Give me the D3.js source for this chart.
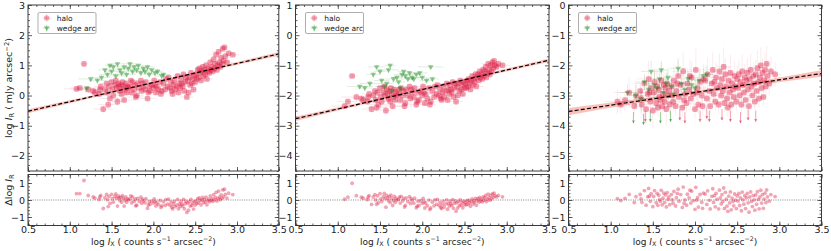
<!DOCTYPE html>
<html><head><meta charset="utf-8">
<script src="https://cdn.jsdelivr.net/npm/d3@7"></script>
<style>body{margin:0;background:#fff} text{font-family:"DejaVu Sans",sans-serif}</style>
</head><body><svg id="c" width="831" height="251"></svg>
<script>
// ---------------- DATA ----------------
const haloX = [1.08,1.12,1.17,1.22,1.28,1.30,
 1.35,1.37,1.40,1.42,1.44,1.45,1.47,1.48,1.50,1.51,1.52,1.54,1.55,1.56,1.57,1.58,1.60,1.61,1.62,1.63,1.64,1.65,1.66,1.67,1.68,1.69,1.70,1.36,1.46,1.59,
 1.72,1.74,1.75,1.77,1.78,1.80,1.81,1.83,1.85,1.86,1.88,1.90,1.91,1.93,1.95,1.96,1.98,2.00,2.01,2.03,2.04,2.06,2.08,2.10,1.73,1.79,1.87,1.94,2.02,2.09,
 2.12,2.14,2.15,2.17,2.18,2.20,2.21,2.22,2.24,2.25,2.26,2.28,2.29,2.30,2.31,2.32,2.33,2.35,2.36,2.37,2.38,2.40,2.41,2.42,2.43,2.44,2.45,2.46,2.47,2.48,2.49,2.50,2.23,2.34,2.39,
 2.51,2.52,2.53,2.54,2.55,2.56,2.57,2.58,2.59,2.60,2.61,2.62,2.63,2.64,2.65,2.66,2.67,2.68,2.69,2.70,2.71,2.72,2.73,2.74,2.75,2.76,2.77,2.78,2.79,2.80,2.81,2.82,2.83,2.84,2.85,2.86,2.88,2.90,2.95];
const haloXErr = [.15,.12,.05,.18,.1,.08,
 .1,.08,.12,.06,.09,.15,.07,.11,.05,.08,.13,.06,.09,.1,.07,.12,.05,.08,.1,.06,.09,.14,.07,.05,.11,.08,.06,.1,.12,.07,
 .06,.09,.05,.11,.07,.08,.04,.1,.06,.13,.05,.08,.07,.09,.06,.1,.05,.08,.07,.12,.06,.05,.09,.07,.08,.1,.06,.05,.11,.07,
 .05,.07,.06,.09,.04,.08,.06,.05,.1,.07,.05,.06,.08,.04,.09,.06,.05,.07,.1,.05,.06,.08,.04,.07,.06,.09,.05,.06,.08,.04,.07,.05,.06,.09,.05,
 .05,.06,.04,.07,.05,.08,.04,.06,.05,.07,.04,.06,.05,.08,.04,.06,.05,.07,.04,.05,.06,.04,.07,.05,.06,.04,.05,.08,.06,.05,.04,.07,.05,.06,.04,.05,.07,.06,.08];
const haloY1 = [0.22,0.25,1.05,0.2,0.15,0.1,
 0.05,0.3,-0.45,0.2,0.4,0.1,0.3,-0.1,0.45,0.2,0.0,0.35,0.5,0.25,-0.2,0.4,0.15,0.35,0.05,0.45,0.3,-0.15,0.2,0.4,0.1,0.3,0.25,0.2,-0.3,0.3,
 0.3,0.1,0.45,0.2,0.35,0.0,0.4,0.25,0.5,0.15,0.3,0.2,0.45,-0.1,0.3,0.15,0.35,0.25,0.5,0.1,0.3,0.2,0.45,0.15,0.5,-0.05,0.4,0.1,0.35,0.05,
 0.4,0.2,0.55,0.3,0.6,0.25,0.45,0.15,0.35,0.5,0.2,0.3,0.65,0.1,0.4,0.25,0.55,0.3,0.7,0.15,0.45,-0.05,0.5,0.1,0.6,0.35,0.75,0.4,0.55,0.2,0.65,0.45,0.05,0.4,0.6,
 0.7,0.55,0.85,0.6,0.9,0.75,0.5,0.8,0.95,0.65,0.85,0.7,1.0,0.55,0.8,0.9,0.75,1.1,0.85,0.95,0.8,1.2,0.9,1.05,1.35,0.85,1.0,1.45,1.1,0.95,1.25,1.05,1.55,1.15,1.6,1.3,1.1,1.4,1.35];
const haloY2 = [-2.35,-2.2,-1.35,-2.05,-2.1,-2.15,
 -2.2,-1.95,-2.45,-2.0,-1.85,-2.15,-1.9,-2.3,-1.75,-2.05,-2.2,-1.9,-1.7,-2.0,-2.5,-1.8,-2.1,-1.85,-2.2,-1.75,-1.95,-2.35,-2.05,-1.8,-2.15,-1.9,-2.0,-2.05,-2.4,-1.95,
 -1.95,-2.15,-1.75,-2.0,-1.85,-2.25,-1.8,-2.0,-1.7,-2.1,-1.9,-2.05,-1.75,-2.3,-1.9,-2.15,-1.85,-2.0,-1.7,-2.25,-1.95,-2.1,-1.75,-2.2,-1.8,-2.35,-1.8,-2.2,-1.9,-2.3,
 -1.85,-2.05,-1.7,-1.95,-1.65,-2.0,-1.8,-2.1,-1.9,-1.7,-2.05,-1.85,-1.6,-2.15,-1.8,-1.95,-1.65,-1.9,-1.55,-2.05,-1.75,-2.2,-1.7,-2.0,-1.6,-1.85,-1.5,-1.8,-1.65,-1.95,-1.55,-1.75,-2.15,-1.8,-1.6,
 -1.6,-1.75,-1.5,-1.7,-1.45,-1.6,-1.8,-1.5,-1.35,-1.65,-1.45,-1.55,-1.3,-1.7,-1.4,-1.3,-1.5,-1.2,-1.4,-1.3,-1.45,-1.15,-1.35,-1.2,-1.05,-1.4,-1.25,-0.95,-1.15,-1.3,-1.0,-1.2,-0.9,-1.1,-0.85,-1.0,-1.05,-0.95,-1.0];
const haloY3 = [-3.2,-3.3,-3.15,-2.9,-3.35,-3.0,
 -2.85,-3.3,-2.6,-3.45,-2.95,-2.45,-3.2,-2.75,-3.5,-2.9,-2.55,-3.25,-2.7,-3.4,-2.8,-3.05,-2.5,-3.35,-2.95,-2.65,-3.2,-2.75,-3.45,-2.6,-3.0,-2.85,-3.3,-3.1,-2.9,-3.15,
 -2.7,-3.2,-2.5,-3.35,-2.85,-2.35,-3.05,-2.65,-3.4,-2.2,-2.95,-3.25,-2.6,-2.8,-3.1,-2.4,-2.95,-3.45,-2.15,-2.75,-3.3,-2.55,-3.0,-2.45,-3.0,-2.6,-3.15,-2.35,-2.9,-3.35,
 -2.5,-3.1,-2.3,-2.85,-3.35,-2.6,-2.15,-2.95,-3.2,-2.4,-2.75,-3.3,-2.2,-2.65,-3.0,-2.45,-2.85,-3.25,-2.3,-2.7,-3.1,-2.5,-2.9,-2.25,-3.3,-2.6,-2.8,-3.05,-2.35,-2.7,-3.2,-2.45,-2.55,-2.05,-3.4,
 -2.75,-2.3,-3.0,-2.55,-3.3,-2.2,-2.65,-2.9,-2.4,-3.15,-2.5,-2.25,-2.8,-3.35,-2.45,-2.15,-2.7,-3.0,-2.35,-2.6,-3.2,-2.3,-2.85,-2.1,-2.55,-3.1,-2.4,-2.0,-2.75,-2.25,-3.05,-2.5,-2.15,-2.7,-1.95,-2.35,-2.6,-2.2,-2.3];
const haloYErr12 = [.08,.1,.06,.12,.09,.07,
 .1,.08,.12,.07,.09,.11,.06,.1,.08,.07,.12,.09,.06,.1,.13,.08,.07,.09,.11,.06,.08,.12,.07,.09,.1,.06,.08,.11,.14,.07,
 .07,.09,.06,.1,.08,.11,.06,.07,.09,.12,.06,.08,.07,.1,.06,.09,.07,.08,.11,.06,.07,.09,.06,.1,.08,.12,.07,.09,.06,.08,
 .06,.08,.07,.09,.06,.1,.07,.06,.08,.07,.09,.06,.07,.11,.06,.08,.07,.06,.09,.07,.06,.1,.07,.08,.06,.07,.09,.06,.07,.08,.06,.07,.1,.06,.07,
 .06,.07,.05,.08,.06,.07,.09,.05,.06,.07,.05,.08,.06,.07,.05,.06,.07,.08,.05,.06,.07,.05,.06,.07,.08,.05,.06,.07,.05,.06,.08,.05,.07,.06,.05,.07,.06,.08,.06];
const haloYErr3 = [.4,.3,.35,.5,.3,.45,
 .3,.45,.25,.5,.35,.6,.3,.4,.55,.3,.45,.35,.5,.3,.4,.35,.6,.3,.45,.5,.35,.3,.55,.4,.3,.45,.35,.5,.3,.4,
 .35,.3,.5,.3,.4,.6,.3,.45,.3,.65,.35,.3,.5,.4,.3,.55,.35,.3,.7,.4,.3,.45,.35,.5,.3,.4,.35,.55,.3,.3,
 .45,.3,.55,.35,.3,.4,.6,.3,.3,.5,.35,.3,.6,.4,.3,.45,.35,.3,.55,.4,.3,.45,.35,.6,.3,.4,.35,.3,.5,.4,.3,.45,.4,.65,.3,
 .35,.5,.3,.4,.3,.55,.35,.3,.45,.3,.4,.5,.35,.3,.4,.55,.35,.3,.45,.4,.3,.5,.35,.6,.4,.3,.45,.6,.35,.5,.3,.4,.55,.35,.6,.45,.4,.5,.4];

const wedgeX1 = [1.2,1.25,1.33,1.38,1.42,1.45,1.48,1.5,1.52,1.55,1.57,1.6,1.62,1.65,1.68,1.7,1.72,1.75,1.77,1.8,1.82,1.85,1.88,1.9,1.93,1.95,1.98,2.02,2.05,2.1,2.12];
const wedgeY1 = [0.25,0.55,0.5,0.6,0.85,0.7,1.0,0.8,0.95,0.65,1.05,0.85,0.75,0.95,0.7,0.9,1.05,0.8,0.95,0.85,1.0,0.75,0.9,0.8,0.95,0.7,0.85,0.75,0.8,0.65,0.7];
const wedgeXErr1 = [.12,.15,.1,.12,.08,.1,.06,.09,.07,.12,.08,.1,.06,.09,.11,.07,.08,.1,.06,.09,.07,.1,.08,.06,.09,.07,.1,.08,.06,.09,.07];
const wedgeYErr1 = [.08,.1,.07,.09,.06,.08,.07,.06,.08,.09,.07,.06,.08,.07,.09,.06,.08,.07,.06,.09,.07,.08,.06,.07,.09,.08,.06,.07,.08,.06,.07];
const wedgeX2 = [1.26,1.32,1.38,1.42,1.46,1.5,1.52,1.55,1.58,1.6,1.62,1.64,1.66,1.7,1.72,1.74,1.76,1.78,1.8,1.83,1.85,1.88,1.9,1.93,1.97,2.0,2.05,2.1,2.12];
const wedgeY2 = [-1.7,-1.75,-1.6,-1.3,-1.05,-1.2,-1.5,-1.7,-1.6,-1.15,-1.0,-1.85,-1.45,-1.4,-1.55,-1.75,-1.3,-1.2,-1.35,-1.45,-1.25,-1.4,-1.45,-1.3,-1.25,-1.4,-1.5,-1.05,-1.45];
const wedgeXErr2 = [.15,.1,.12,.08,.1,.07,.09,.11,.08,.12,.06,.09,.1,.07,.08,.06,.1,.07,.09,.08,.06,.1,.07,.08,.09,.06,.08,.15,.07];
const wedgeYErr2 = [.08,.09,.07,.1,.06,.08,.07,.09,.06,.08,.07,.1,.06,.08,.07,.09,.06,.07,.08,.06,.09,.07,.08,.06,.07,.08,.06,.07,.08];
const wedgeX3 = [1.2,1.3,1.36,1.4,1.45,1.48,1.52,1.55,1.58,1.6,1.63,1.66,1.68,1.72,1.75,1.8,1.84,1.88,1.92,1.96,2.0,2.05,2.1,2.14];
const wedgeY3 = [-2.9,-3.0,-3.1,-2.55,-2.8,-2.2,-2.65,-2.75,-2.45,-2.15,-2.9,-2.6,-2.4,-2.7,-2.95,-2.1,-2.6,-2.8,-2.45,-2.65,-2.75,-2.5,-2.35,-2.3];
const wedgeXErr3 = [.1,.12,.08,.1,.07,.12,.09,.06,.1,.08,.07,.11,.06,.09,.08,.1,.07,.06,.09,.08,.07,.1,.06,.08];
const wedgeYErr3 = [.3,.35,.4,.25,.3,.35,.45,.3,.25,.3,.4,.35,.3,.25,.35,.3,.4,.3,.25,.35,.3,.3,.25,.3];

// upper limits (panel 3)
const haloULX3 = [1.41,1.82,1.88,2.06,2.14,2.17,2.32,2.42,2.54,2.63,2.72];
const haloULY3 = [-3.5,-3.45,-3.55,-3.5,-3.4,-3.5,-3.45,-3.5,-3.55,-3.45,-3.5];
const wedgeULX3 = [1.27,1.39,1.47,1.59,1.71];
const wedgeULY3 = [-3.55,-3.6,-3.5,-3.55,-3.5];

// best-fit line values at x = 0.5 and x = 3.5, band half-widths at x = 0.5, 2.0, 3.5
const fitEnds = [[-0.52,1.38],[-2.77,-0.83],[-3.53,-2.27]];
const bandHalf = [[0.07,0.03,0.06],[0.07,0.03,0.06],[0.12,0.05,0.11]];

const yDomains = [[-2.5,3],[-4.5,1],[-5.5,0]];
const yMajorTicks = [[-2,-1,0,1,2,3],[-4,-3,-2,-1,0,1],[-5,-4,-3,-2,-1,0]];
const xMajorTicks = [0.5,1.0,1.5,2.0,2.5,3.0,3.5];
const resTicks = [-1,0,1];
const legendLabels = ["halo","wedge arc"];

// ---------------- LAYOUT ----------------
const svg = d3.select('#c');
const panelX = [[28,278.8],[295.5,549],[568.5,821.5]];
const mainY = [5,171], resY = [174.5,225.5];
const HALO = 'rgb(220,20,60)', WEDGE = 'rgb(0,128,0)', AX = '#3a3a3a';

const panels = [
 {hy: haloY1, hye: haloYErr12, wx: wedgeX1, wy: wedgeY1, wxe: wedgeXErr1, wye: wedgeYErr1},
 {hy: haloY2, hye: haloYErr12, wx: wedgeX2, wy: wedgeY2, wxe: wedgeXErr2, wye: wedgeYErr2},
 {hy: haloY3, hye: haloYErr3, wx: wedgeX3, wy: wedgeY3, wxe: wedgeXErr3, wye: wedgeYErr3,
  ulx: haloULX3, uly: haloULY3, wulx: wedgeULX3, wuly: wedgeULY3}
];

function range(a,b,s){const r=[];for(let v=a;v<=b+1e-9;v+=s)r.push(+v.toFixed(3));return r;}

function styleAxis(g){
  g.select('.domain').remove();
  g.selectAll('.tick line').attr('stroke',AX).attr('stroke-width',0.8);
  g.selectAll('.tick text').attr('fill','#222').attr('font-size',9.5).attr('font-family','DejaVu Sans');
}

function frameAxes(g, xs, ys, x0,x1,y0,y1, yMaj, yMin, xLabels){
  const fmt = d3.format('.1f');
  const xMin = range(0.5,3.5,0.1);
  g.append('g').attr('transform',`translate(0,${y1})`).call(d3.axisBottom(xs).tickValues(xMin).tickSize(-2).tickFormat('')).call(styleAxis);
  g.append('g').attr('transform',`translate(0,${y1})`).call(d3.axisBottom(xs).tickValues(xMajorTicks).tickSizeInner(-4).tickSizeOuter(0).tickPadding(1).tickFormat(xLabels?fmt:'')).call(styleAxis);
  g.append('g').attr('transform',`translate(0,${y0})`).call(d3.axisTop(xs).tickValues(xMin).tickSize(-2).tickFormat('')).call(styleAxis);
  g.append('g').attr('transform',`translate(0,${y0})`).call(d3.axisTop(xs).tickValues(xMajorTicks).tickSize(-4).tickFormat('')).call(styleAxis);
  g.append('g').attr('transform',`translate(${x0},0)`).call(d3.axisLeft(ys).tickValues(yMin).tickSize(-2).tickFormat('')).call(styleAxis);
  g.append('g').attr('transform',`translate(${x0},0)`).call(d3.axisLeft(ys).tickValues(yMaj).tickSizeInner(-4).tickSizeOuter(0).tickPadding(3).tickFormat(d3.format('d'))).call(styleAxis);
  g.append('g').attr('transform',`translate(${x1},0)`).call(d3.axisRight(ys).tickValues(yMin).tickSize(-2).tickFormat('')).call(styleAxis);
  g.append('g').attr('transform',`translate(${x1},0)`).call(d3.axisRight(ys).tickValues(yMaj).tickSize(-4).tickFormat('')).call(styleAxis);
  g.append('rect').attr('x',x0).attr('y',y0).attr('width',x1-x0).attr('height',y1-y0)
    .attr('fill','none').attr('stroke',AX).attr('stroke-width',1);
}

const tri = d3.symbol().type(d3.symbolTriangle).size(14);

panels.forEach((p, i) => {
  const [x0,x1] = panelX[i];
  const xs = d3.scaleLinear().domain([0.5,3.5]).range([x0,x1]);
  const ys = d3.scaleLinear().domain(yDomains[i]).range([mainY[1],mainY[0]]);
  const rs = d3.scaleLinear().domain([-1.5,1.5]).range([resY[1],resY[0]]);
  const fit = d3.scaleLinear().domain([0.5,3.5]).range(fitEnds[i]);
  const g = svg.append('g');

  const cid = 'clip'+i, rid = 'rclip'+i;
  const defs = svg.append('defs');
  defs.append('clipPath').attr('id',cid).append('rect').attr('x',x0).attr('y',mainY[0]).attr('width',x1-x0).attr('height',mainY[1]-mainY[0]);
  defs.append('clipPath').attr('id',rid).append('rect').attr('x',x0).attr('y',resY[0]).attr('width',x1-x0).attr('height',resY[1]-resY[0]);

  const m = g.append('g').attr('clip-path',`url(#${cid})`);

  const bx = [0.5,2.0,3.5];
  const band = d3.area().x(d=>xs(d[0])).y0(d=>ys(fit(d[0])-d[1])).y1(d=>ys(fit(d[0])+d[1])).curve(d3.curveNatural);
  m.append('path').datum(bx.map((x,k)=>[x,bandHalf[i][k]])).attr('d',band)
    .attr('fill','rgb(250,140,130)').attr('opacity',0.55);

  const hd = haloX.map((x,k)=>({x, y:p.hy[k], xe:haloXErr[k], ye:p.hye[k]}));
  const eb = m.append('g').attr('stroke',HALO).attr('stroke-opacity',i===2?0.11:0.14).attr('stroke-width',0.8);
  eb.selectAll('.ex').data(hd).join('line').attr('x1',d=>xs(d.x-d.xe)).attr('x2',d=>xs(d.x+d.xe)).attr('y1',d=>ys(d.y)).attr('y2',d=>ys(d.y));
  eb.selectAll('.ey').data(hd).join('line').attr('class','ey').attr('x1',d=>xs(d.x)).attr('x2',d=>xs(d.x)).attr('y1',d=>ys(d.y-d.ye)).attr('y2',d=>ys(d.y+d.ye));

  const wd = p.wx.map((x,k)=>({x, y:p.wy[k], xe:p.wxe[k], ye:p.wye[k]}));
  const wb = m.append('g').attr('stroke',WEDGE).attr('stroke-opacity',0.16).attr('stroke-width',0.8);
  wb.selectAll('.ex').data(wd).join('line').attr('x1',d=>xs(d.x-d.xe)).attr('x2',d=>xs(d.x+d.xe)).attr('y1',d=>ys(d.y)).attr('y2',d=>ys(d.y));
  wb.selectAll('.ey').data(wd).join('line').attr('class','ey').attr('x1',d=>xs(d.x)).attr('x2',d=>xs(d.x)).attr('y1',d=>ys(d.y-d.ye)).attr('y2',d=>ys(d.y+d.ye));

  function drawUL(xsArr, ysArr, col){
    if(!xsArr) return;
    const d = xsArr.map((x,k)=>({x,y:ysArr[k]}));
    const ug = m.append('g');
    ug.selectAll('line').data(d).join('line').attr('x1',d=>xs(d.x)).attr('x2',d=>xs(d.x))
      .attr('y1',d=>ys(d.y)).attr('y2',d=>ys(d.y-0.36)).attr('stroke',col).attr('stroke-opacity',0.4).attr('stroke-width',1);
    ug.selectAll('path').data(d).join('path')
      .attr('d',d=>{const cx=xs(d.x), cy=ys(d.y-0.36); return `M${cx-1.6},${cy-2.6}L${cx+1.6},${cy-2.6}L${cx},${cy+0.4}Z`;})
      .attr('fill',col).attr('fill-opacity',0.45);
  }
  drawUL(p.ulx, p.uly, HALO);
  drawUL(p.wulx, p.wuly, WEDGE);

  m.append('g').selectAll('rect').data(hd).join('rect')
    .attr('x',d=>xs(d.x)-2.8).attr('y',d=>ys(d.y)-2.8).attr('width',5.6).attr('height',5.6).attr('rx',1.6)
    .attr('fill',HALO).attr('fill-opacity',0.4);
  m.append('g').selectAll('path').data(wd).join('path')
    .attr('d',tri).attr('transform',d=>`translate(${xs(d.x)},${ys(d.y)}) rotate(180)`)
    .attr('fill',WEDGE).attr('fill-opacity',0.4);

  m.append('line').attr('x1',xs(0.5)).attr('x2',xs(3.5)).attr('y1',ys(fitEnds[i][0])).attr('y2',ys(fitEnds[i][1]))
    .attr('stroke','#000').attr('stroke-width',1.2).attr('stroke-dasharray','4,2.2');

  frameAxes(g, xs, ys, x0,x1, mainY[0], mainY[1], yMajorTicks[i], range(yDomains[i][0],yDomains[i][1],0.2), false);

  const r = g.append('g').attr('clip-path',`url(#${rid})`);
  r.append('line').attr('x1',x0).attr('x2',x1).attr('y1',rs(0)).attr('y2',rs(0))
    .attr('stroke','#888').attr('stroke-width',1.1).attr('stroke-dasharray','1,1.3');
  r.append('g').selectAll('circle').data(hd).join('circle')
    .attr('cx',d=>xs(d.x)).attr('cy',d=>rs(d.y - fit(d.x))).attr('r',1.9)
    .attr('fill',HALO).attr('fill-opacity',0.38);
  frameAxes(g, xs, rs, x0,x1, resY[0], resY[1], resTicks, range(-1.4,1.4,0.2), true);

  const xl = g.append('text').attr('x',(x0+x1)/2).attr('y',244.5).attr('text-anchor','middle').attr('font-size',9).attr('fill','#222');
  xl.append('tspan').text('log ');
  xl.append('tspan').attr('font-style','italic').text('I');
  xl.append('tspan').attr('font-size',6.3).attr('dy',1.6).text('X');
  xl.append('tspan').attr('dy',-1.6).text(' ( counts s');
  xl.append('tspan').attr('font-size',6.3).attr('dy',-3.3).text('−1');
  xl.append('tspan').attr('dy',3.3).text(' arcsec');
  xl.append('tspan').attr('font-size',6.3).attr('dy',-3.3).text('−2');
  xl.append('tspan').attr('dy',3.3).text(')');

  const lx = x0+10, ly = mainY[0]+7.5;
  const lg = g.append('g');
  lg.append('rect').attr('x',lx).attr('y',ly).attr('width',58).attr('height',21).attr('rx',1.5)
    .attr('fill','#fff').attr('fill-opacity',0.8).attr('stroke','#999').attr('stroke-width',0.8);
  const mx = lx+8.7;
  lg.append('line').attr('x1',mx-3.5).attr('x2',mx+3.5).attr('y1',ly+5.5).attr('y2',ly+5.5).attr('stroke',HALO).attr('stroke-opacity',0.25);
  lg.append('line').attr('x1',mx).attr('x2',mx).attr('y1',ly+2).attr('y2',ly+9).attr('stroke',HALO).attr('stroke-opacity',0.25);
  lg.append('rect').attr('x',mx-2.6).attr('y',ly+5.5-2.6).attr('width',5.2).attr('height',5.2).attr('rx',1.5).attr('fill',HALO).attr('fill-opacity',0.35);
  lg.append('text').attr('x',lx+18.7).attr('y',ly+8.3).attr('font-size',7.5).attr('fill','#222').text(legendLabels[0]);
  lg.append('line').attr('x1',mx-3.5).attr('x2',mx+3.5).attr('y1',ly+15.5).attr('y2',ly+15.5).attr('stroke',WEDGE).attr('stroke-opacity',0.25);
  lg.append('line').attr('x1',mx).attr('x2',mx).attr('y1',ly+12).attr('y2',ly+19).attr('stroke',WEDGE).attr('stroke-opacity',0.25);
  lg.append('path').attr('d',tri).attr('transform',`translate(${mx},${ly+15.5}) rotate(180)`).attr('fill',WEDGE).attr('fill-opacity',0.4);
  lg.append('text').attr('x',lx+18.7).attr('y',ly+18.3).attr('font-size',7.5).attr('fill','#222').text(legendLabels[1]);
});

const yl = svg.append('text').attr('transform',`translate(12,88) rotate(-90)`).attr('text-anchor','middle').attr('font-size',9.5).attr('fill','#222');
yl.append('tspan').text('log ');
yl.append('tspan').attr('font-style','italic').text('I');
yl.append('tspan').attr('font-size',6.7).attr('dy',1.8).text('R');
yl.append('tspan').attr('dy',-1.8).text(' ( mJy arcsec');
yl.append('tspan').attr('font-size',6.7).attr('dy',-3.5).text('−2');
yl.append('tspan').attr('dy',3.5).text(')');

const rl = svg.append('text').attr('transform',`translate(12,190) rotate(-90)`).attr('text-anchor','middle').attr('font-size',9.5).attr('fill','#222');
rl.append('tspan').text('Δlog ');
rl.append('tspan').attr('font-style','italic').text('I');
rl.append('tspan').attr('font-size',6.7).attr('dy',1.8).text('R');
</script>
</body></html>
